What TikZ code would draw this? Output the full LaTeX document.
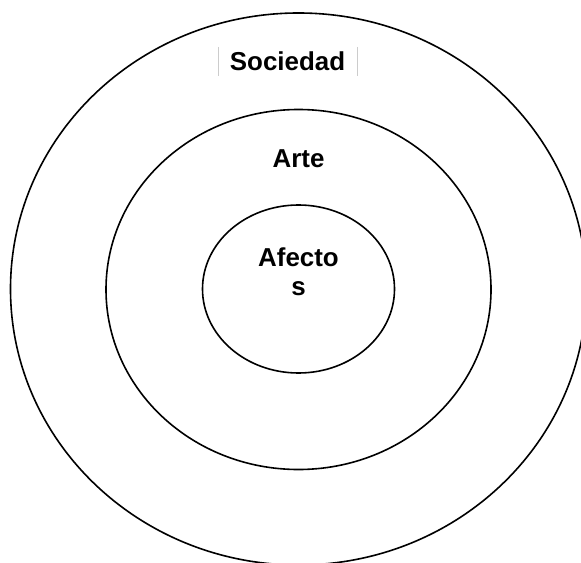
\documentclass[tikz,border=0pt]{standalone}
\usepackage{fontspec}
\setmainfont{Liberation Sans}
\usetikzlibrary{shapes.geometric}

\begin{document}
\begin{tikzpicture}[
        x=1bp, y=-1bp,
        ring/.style={draw, ellipse, line width=1.6bp, inner sep=0pt},
        word/.style={font=\bfseries\fontsize{26}{29}\selectfont, align=center, inner sep=0pt}
    ]
        \clip (0,0) rectangle (581,563);

        \node[ring, minimum width=576bp, minimum height=552bp] (sociedad) at (298.5,289) {};
        \node[ring, minimum width=385bp, minimum height=360bp] (arte) at (298.5,289.5) {};
        \node[ring, minimum width=192bp, minimum height=168bp] (afectos) at (298.5,289) {};

        \node[word, minimum width=139bp, minimum height=29bp] (socText) at (287.5,61.5) {Sociedad};
        \draw[black!20, line width=0.6bp] (socText.north west) -- (socText.south west);
        \draw[black!20, line width=0.6bp] (socText.north east) -- (socText.south east);

        \node[word, anchor=base] (arteText) at (298.5,167.7) {Arte};
        \node[word, anchor=base] (afecText) at (298.5,295) {Afecto\\s};
    \end{tikzpicture}
\end{document}
